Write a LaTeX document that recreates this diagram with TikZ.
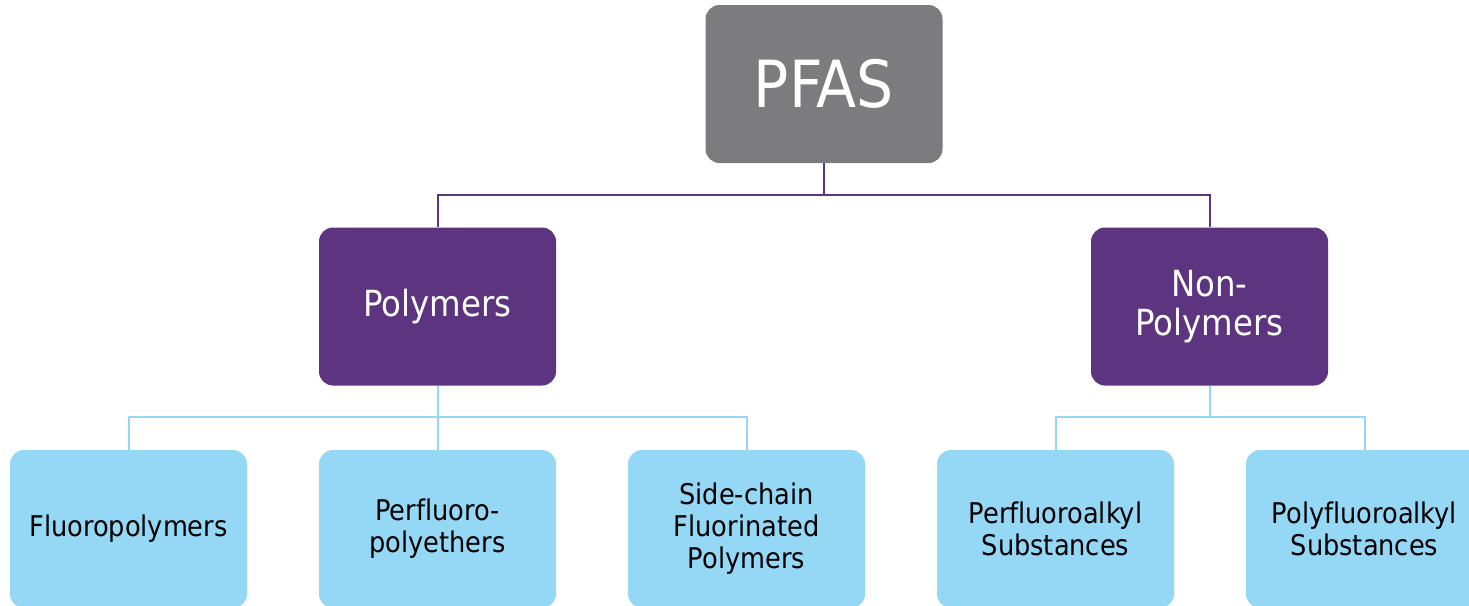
\documentclass[tikz,border=0pt]{standalone}
\usepackage{fontspec}
\setmainfont[Ligatures=NoCommon]{DejaVu Sans Condensed}
\definecolor{pfasgray}{HTML}{7C7C7E}
\definecolor{polypurple}{HTML}{5C3480}
\definecolor{leafblue}{HTML}{94D8F6}
\tikzset{
  box/.style={rounded corners=14pt, minimum width=237pt, minimum height=158pt,
    inner sep=0pt, align=center, text width=230pt},
  rootbox/.style={box, fill=pfasgray, text=white, font=\fontsize{65}{72}\selectfont},
  midbox/.style={box, fill=polypurple, text=white, font=\fontsize{36}{39}\selectfont},
  leafbox/.style={box, fill=leafblue, text=black, font=\fontsize{28.5}{32}\selectfont},
  purpleline/.style={draw=polypurple, line width=2pt},
  blueline/.style={draw=leafblue, line width=2pt},
}
\begin{document}
\begin{tikzpicture}[x=1pt, y=-1pt]
  \useasboundingbox (0,0) rectangle (1469,605);
  \clip (0,0) rectangle (1469,605);
  % hierarchy boxes
  \node[rootbox] (pfas) at (824,84) {PFAS};
  \node[midbox] (poly) at (437.5,306.5) {Polymers};
  \node[midbox] (nonpoly) at (1209.5,306.5) {Non-\\Polymers};
  \node[leafbox] (fluoro) at (128.5,529) {Fluoropolymers};
  \node[leafbox] (pfpe) at (437.5,529) {Perfluoro-\\polyethers};
  \node[leafbox] (side) at (746.5,529) {Side-chain\\Fluorinated\\Polymers};
  \node[leafbox] (pfalkyl) at (1055.5,529) {Perfluoroalkyl\\Substances};
  \node[leafbox] (polyfalkyl) at (1364.5,529) {Polyfluoroalkyl\\Substances};
  % elbow connectors
  \coordinate (topbar) at (824,195);
  \coordinate (leftbar) at (437.5,417);
  \coordinate (rightbar) at (1209.5,417);
  \draw[purpleline] (pfas.south) -- (topbar);
  \draw[purpleline] (topbar) -| (poly.north);
  \draw[purpleline] (topbar) -| (nonpoly.north);
  \draw[blueline] (poly.south) -- (leftbar);
  \draw[blueline] (leftbar) -| (fluoro.north);
  \draw[blueline] (leftbar) -- (pfpe.north);
  \draw[blueline] (leftbar) -| (side.north);
  \draw[blueline] (nonpoly.south) -- (rightbar);
  \draw[blueline] (rightbar) -| (pfalkyl.north);
  \draw[blueline] (rightbar) -| (polyfalkyl.north);
\end{tikzpicture}
\end{document}
